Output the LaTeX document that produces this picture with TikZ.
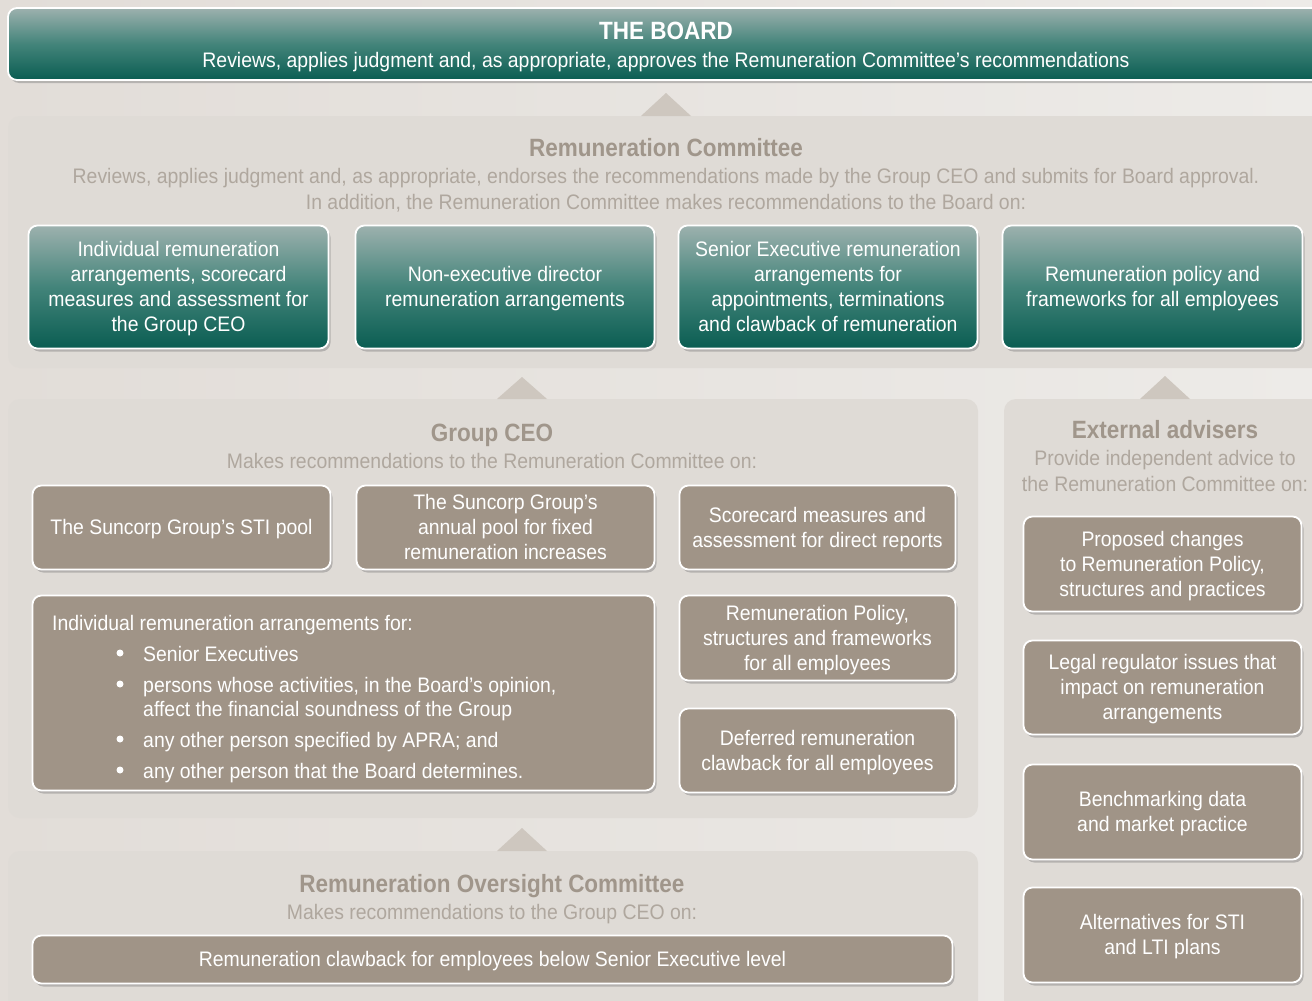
\documentclass[tikz,border=0pt]{standalone}
\usepackage{fontspec}
\setmainfont{Liberation Sans}[FakeStretch=0.925]
\newfontfamily\titlefont{Liberation Sans}[FakeStretch=0.9]
\usetikzlibrary{shadows}
\newcommand\topstrut{\rule{0pt}{20pt}}
\newcommand\botstrut{\rule[-6pt]{0pt}{6pt}}
\definecolor{bgA}{HTML}{E2DDD8}
\definecolor{bgB}{HTML}{EDEBE8}
\definecolor{panel}{HTML}{DFDBD6}
\definecolor{tri}{HTML}{CEC7BF}
\definecolor{tealT}{HTML}{9DB1AE}
\definecolor{tealM}{HTML}{43847A}
\definecolor{tealB}{HTML}{0A5D52}
\definecolor{taupe}{HTML}{A09487}
\definecolor{ttlc}{HTML}{A0968B}
\definecolor{subc}{HTML}{AFA79E}
\tikzset{
  panelbox/.style={fill=panel, rounded corners=12pt},
  shad/.style={drop shadow={shadow xshift=2pt, shadow yshift=-3pt, opacity=0.45}},
  boxfont/.style={text=white, align=center, font=\fontsize{21}{25}\selectfont, inner sep=0pt},
  tealbox/.style={shad, rounded corners=9pt, draw=white, line width=1.8pt,
    top color=tealT, bottom color=tealB, middle color=tealM, boxfont},
  taupebox/.style={shad, rounded corners=9pt, draw=white, line width=1.8pt,
    fill=taupe, boxfont},
  ttltext/.style={anchor=base, text=ttlc, font=\titlefont\bfseries\fontsize{25}{29}\selectfont, inner sep=0pt},
  subtext/.style={anchor=base, text=subc, font=\fontsize{21}{25}\selectfont, inner sep=0pt},
  whitetext/.style={anchor=base west, text=white, font=\fontsize{21}{25}\selectfont, inner sep=0pt},
  bul/.style={circle, fill=white, inner sep=0pt, minimum size=7pt},
  arrowtri/.style={fill=tri}
}
\begin{document}
\begin{tikzpicture}[x=1pt,y=-1pt]
\useasboundingbox (0,0) rectangle (1312,1001);
\clip (0,0) rectangle (1312,1001);
\shade[left color=bgA, right color=bgB] (0,0) rectangle (1312,1001);

% panels
\fill[panelbox] (8,116) rectangle (1330,368);
\fill[panelbox] (8,399) rectangle (978,818);
\fill[panelbox] (1004,399) rectangle (1330,1020);
\fill[panelbox] (8,851) rectangle (978,1020);

% arrow triangles
\fill[arrowtri] (641,116) -- (666,93) -- (691,116) -- cycle;
\fill[arrowtri] (497,399) -- (522,377) -- (547,399) -- cycle;
\fill[arrowtri] (1140,399) -- (1165,376) -- (1190,399) -- cycle;
\fill[arrowtri] (497,851) -- (522,828) -- (547,851) -- cycle;

% board
\node[tealbox, minimum width=1317pt, minimum height=72pt] (board) at (666.5,44) {};
\node[anchor=base, text=white, font=\titlefont\bfseries\fontsize{25}{29}\selectfont, inner sep=0pt] (boardt) at (666,39) {THE BOARD};
\node[anchor=base, text=white, font=\fontsize{21}{25}\selectfont, inner sep=0pt] (boards) at (666,67) {Reviews, applies judgment and, as appropriate, approves the Remuneration Committee’s recommendations};

% remuneration committee
\node[ttltext] (rct) at (666,156) {Remuneration Committee};
\node[subtext] (rcs1) at (666,183) {Reviews, applies judgment and, as appropriate, endorses the recommendations made by the Group CEO and submits for Board approval.};
\node[subtext] (rcs2) at (666,209) {In addition, the Remuneration Committee makes recommendations to the Board on:};
\node[tealbox, minimum width=300pt, minimum height=123pt] (rc1) at (178.5,287) {\topstrut Individual remuneration\\arrangements, scorecard\\measures and assessment for\\the Group CEO\botstrut};
\node[tealbox, minimum width=299pt, minimum height=123pt] (rc2) at (505,287) {\topstrut Non-executive director\\remuneration arrangements\botstrut};
\node[tealbox, minimum width=299pt, minimum height=123pt] (rc3) at (828,287) {\topstrut Senior Executive remuneration\\arrangements for\\appointments, terminations\\and clawback of remuneration\botstrut};
\node[tealbox, minimum width=300pt, minimum height=123pt] (rc4) at (1152.5,287) {\topstrut Remuneration policy and\\frameworks for all employees\botstrut};

% group CEO
\node[ttltext] (ceot) at (492,441) {Group CEO};
\node[subtext] (ceos) at (492,468) {Makes recommendations to the Remuneration Committee on:};
\node[taupebox, minimum width=298pt, minimum height=84pt] (c1) at (181.5,527.5) {\topstrut The Suncorp Group’s STI pool\botstrut};
\node[taupebox, minimum width=298pt, minimum height=84pt] (c2) at (505.5,527.5) {\topstrut The Suncorp Group’s\\annual pool for fixed\\remuneration increases\botstrut};
\node[taupebox, minimum width=276pt, minimum height=84pt] (c3) at (817.5,527.5) {\topstrut Scorecard measures and\\assessment for direct reports\botstrut};
\node[taupebox, minimum width=622pt, minimum height=195pt] (big) at (343.5,693) {};
\node[taupebox, minimum width=276pt, minimum height=85pt] (c4) at (817.5,638) {\topstrut Remuneration Policy,\\structures and frameworks\\for all employees\botstrut};
\node[taupebox, minimum width=276pt, minimum height=84pt] (c5) at (817.5,750.5) {\topstrut Deferred remuneration\\clawback for all employees\botstrut};

\node[whitetext] (bl0) at (52,630) {Individual remuneration arrangements for:};
\node[bul] (bu1) at (120,653) {};
\node[whitetext] (bl1) at (143,661) {Senior Executives};
\node[bul] (bu2) at (120,684) {};
\node[whitetext] (bl2) at (143,692) {persons whose activities, in the Board’s opinion,};
\node[whitetext] (bl2b) at (143,716) {affect the financial soundness of the Group};
\node[bul] (bu3) at (120,739) {};
\node[whitetext] (bl3) at (143,747) {any other person specified by APRA; and};
\node[bul] (bu4) at (120,770) {};
\node[whitetext] (bl4) at (143,778) {any other person that the Board determines.};

% external advisers
\node[ttltext] (eat) at (1165,438) {External advisers};
\node[subtext] (eas1) at (1165,465) {Provide independent advice to};
\node[subtext] (eas2) at (1165,491) {the Remuneration Committee on:};
\node[taupebox, minimum width=278pt, minimum height=95pt] (e1) at (1162.5,564) {\topstrut Proposed changes\\to Remuneration Policy,\\structures and practices\botstrut};
\node[taupebox, minimum width=278pt, minimum height=94pt] (e2) at (1162.5,687.5) {\topstrut Legal regulator issues that\\impact on remuneration\\arrangements\botstrut};
\node[taupebox, minimum width=278pt, minimum height=95pt] (e3) at (1162.5,812) {\topstrut Benchmarking data\\and market practice\botstrut};
\node[taupebox, minimum width=278pt, minimum height=95pt] (e4) at (1162.5,935) {\topstrut Alternatives for STI\\and LTI plans\botstrut};

% remuneration oversight committee
\node[ttltext] (roct) at (492,892) {Remuneration Oversight Committee};
\node[subtext] (rocs) at (492,919) {Makes recommendations to the Group CEO on:};
\node[taupebox, minimum width=920pt, minimum height=48pt] (roc1) at (492.5,959.5) {\topstrut Remuneration clawback for employees below Senior Executive level\botstrut};
\end{tikzpicture}
\end{document}
